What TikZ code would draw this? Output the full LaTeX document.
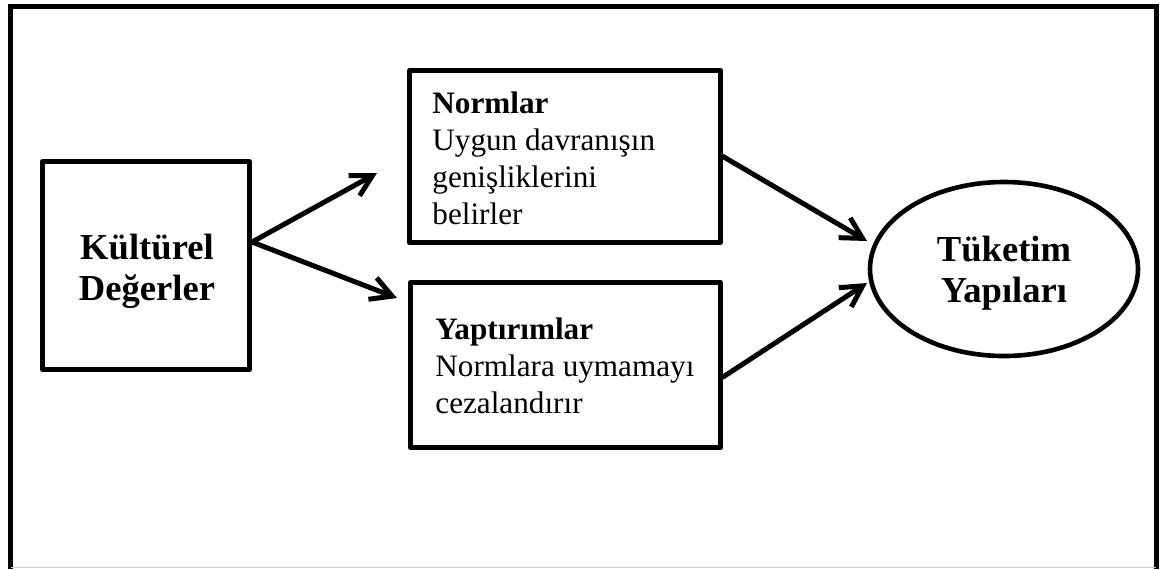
\documentclass[tikz,border=0pt]{standalone}
\usepackage{fontspec}
\setmainfont{Liberation Serif}
\usetikzlibrary{arrows.meta,shapes.geometric}

\begin{document}
\begin{tikzpicture}[x = 0.5pt, y = -0.5pt,
		kutu/.style = {draw, line width = 2.5pt, line join = round, inner sep = 0pt},
		metin/.style = {inner sep = 0pt, align = left, anchor = north west, font = \fontsize{15.6}{18.5}\selectfont},
		baslik/.style = {inner sep = 0pt, align = center, font = \bfseries\fontsize{18.3}{20.5}\selectfont},
		ok/.style = {line width = 2.5pt, line cap = round, -{Straight Barb[length = 10.5pt, width = 11.5pt]}}]
	\useasboundingbox (0, 0) rectangle (1173, 569);
	% dis cerceve
	\draw[line width = 2.5pt] (10.5, 569) -- (10.5, 6) -- (1156, 6) -- (1156, 569);
	\draw[gray!40] (10.5, 567.5) -- (1156, 567.5);
	% kutular
	\node[kutu, minimum width = 103.5pt, minimum height = 104pt] (kultur) at (146, 265.5) {};
	\node[baslik] (kulturyazi) at ([xshift = 0.5pt, yshift = -3pt]kultur.center) {Kültürel\\Değerler};
	\node[kutu, minimum width = 155.5pt, minimum height = 86pt] (normlar) at (565, 156.5) {};
	\node[metin] (normlaryazi) at (432, 91) {\textbf{Normlar}\\Uygun davranışın\\genişliklerini\\belirler};
	\node[kutu, minimum width = 155pt, minimum height = 82.5pt] (yaptirim) at (565.5, 365) {};
	\node[metin] (yaptirimyazi) at (435, 317) {\textbf{Yaptırımlar}\\Normlara uymamayı\\cezalandırır};
	\node[draw, ellipse, line width = 2.3pt, minimum width = 134pt, minimum height = 87pt, inner sep = 0pt] (tuketim) at (1004, 269) {};
	\node[baslik] (tuketimyazi) at ([yshift = -2pt]tuketim.center) {Tüketim\\Yapıları};
	% oklar
	\coordinate (uc1) at (377, 173);
	\coordinate (uc2) at (397, 298);
	\coordinate (uc3) at (867, 241);
	\coordinate (uc4) at (867, 283);
	\draw[ok] ([yshift = 11.75pt]kultur.east) -- (uc1);
	\draw[ok] ([yshift = 11.75pt]kultur.east) -- (uc2);
	\draw[ok] (normlar.east) -- (uc3);
	\draw[ok] ([yshift = -6pt]yaptirim.east) -- (uc4);
\end{tikzpicture}
\end{document}
